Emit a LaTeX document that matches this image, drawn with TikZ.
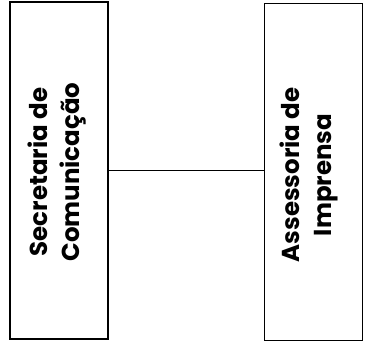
\documentclass[tikz,border=0pt]{standalone}
\usepackage{fontspec}
\setmainfont{Poppins}[BoldFont={Poppins Bold}]
\begin{document}
\begin{tikzpicture}[x=1pt,y=1pt,
  box/.style={draw=black,line width=1.3pt,minimum width=98pt,minimum height=337pt,inner sep=0pt},
  lbl/.style={rotate=90,align=center,font=\bfseries\fontsize{24.5}{32}\selectfont}]
\useasboundingbox (0,0) rectangle (366,348);
\node[box] (sec) at (59,177.5) {};
\node[box] (ass) at (313.5,176) {};
\node[lbl] (sect) at (57,176) {Secretaria de\\Comunicação};
\node[lbl] (asst) at (309,173) {Assessoria de\\Imprensa};
\draw[line width=1pt] (sec.east |- 0,177) -- (ass.west |- 0,177);
\end{tikzpicture}
\end{document}
